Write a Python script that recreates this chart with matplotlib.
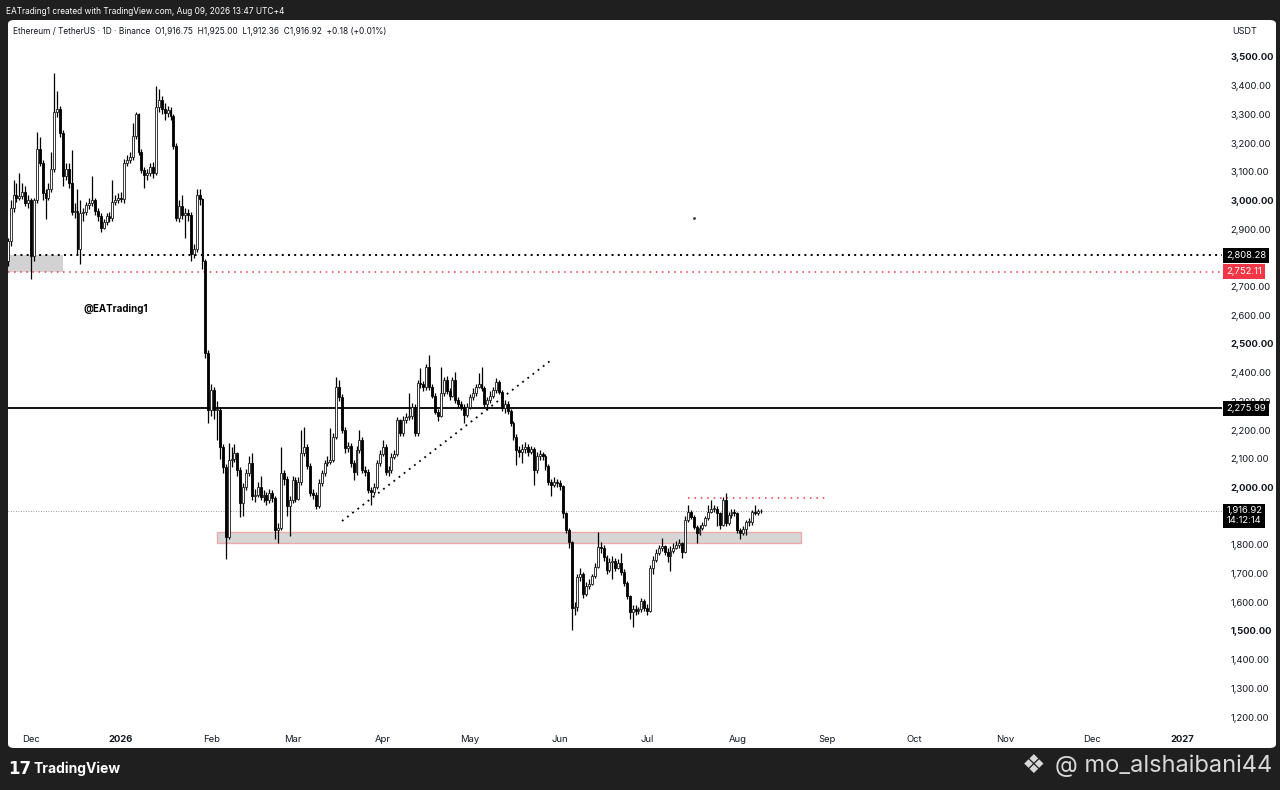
import numpy as np
import pandas as pd
import matplotlib
matplotlib.use("Agg")
import matplotlib.pyplot as plt
from matplotlib.patches import Rectangle, FancyBboxPatch

plt.rcParams['font.family'] = ['Inter', 'DejaVu Sans']

# ETH/USDT daily candles, first candle 2025-11-23, open = previous close
start = pd.Timestamp("2025-11-23")
first_open = 2790

closes = [
    # Nov
    2860, 2975, 3020, 3010, 3015, 3030, 2990, 3000,
    # Dec
    2805, 3000, 3180, 3130, 3025, 3010, 3040, 3110, 3310, 3320, 3235, 3085, 3110, 3060, 2960, 2965,
    2830, 2955, 2960, 2985, 2990, 3000, 2965, 2945, 2905, 2925, 2945, 2940, 2995, 3000, 3010,
    # Jan
    3005, 3130, 3140, 3150, 3225, 3300, 3170, 3105, 3090, 3095, 3115, 3095, 3325, 3350, 3320, 3305,
    3315, 3295, 3190, 2940, 2980, 2950, 2955, 2950, 2815, 2830, 3020, 3005, 2790, 2470, 2270,
    # Feb
    2340, 2270, 2270, 2142, 2072, 1829, 2095, 2100, 2120, 2060, 1945, 2000, 2050, 2085, 1970, 1975,
    2000, 1965, 1975, 1955, 1980, 1962, 1850, 1860, 2050, 2030, 1935, 1955,
    # Mar
    2025, 1960, 2020, 2120, 2140, 2075, 1980, 1975, 1935, 2014, 2049, 2084, 2090, 2096, 2177, 2351,
    2316, 2200, 2136, 2145, 2084, 2055, 2130, 2165, 2061, 2055, 1991, 1985, 2003, 2084, 2118,
    # Apr
    2140, 2055, 2060, 2107, 2118, 2235, 2189, 2235, 2245, 2250, 2282, 2189, 2363, 2360, 2350, 2420,
    2350, 2320, 2264, 2250, 2330, 2375, 2335, 2320, 2375, 2305, 2290, 2282, 2253, 2282,
    # May
    2316, 2330, 2350, 2360, 2345, 2290, 2305, 2320, 2340, 2368, 2334, 2276, 2290, 2265, 2224, 2177,
    2131, 2125, 2135, 2140, 2122, 2135, 2061, 2110, 2115, 2108, 2073, 2020, 2010, 2020, 2015,
    # Jun
    2005, 1910, 1852, 1811, 1580, 1585, 1689, 1700, 1630, 1655, 1665, 1690, 1724, 1794, 1790, 1758,
    1712, 1740, 1745, 1720, 1735, 1705, 1666, 1620, 1567, 1575, 1570, 1575, 1605, 1580,
    # Jul
    1570, 1718, 1747, 1770, 1790, 1795, 1775, 1760, 1780, 1790, 1800, 1805, 1776, 1887, 1916, 1898,
    1863, 1840, 1860, 1870, 1892, 1915, 1925, 1926, 1910, 1869, 1956, 1875, 1905, 1915, 1910,
    # Aug
    1852, 1840, 1855, 1880, 1880, 1915, 1912, 1916.75, 1916.92,
]

highs = [
    2870, 3000, 3070, 3060, 3095, 3060, 3050, 3020,
    3010, 3010, 3240, 3220, 3140, 3040, 3060, 3170, 3445, 3380, 3330, 3245, 3130, 3130, 3175, 2990,
    3040, 3000, 2975, 2995, 3010, 3085, 3010, 2975, 2955, 2935, 2955, 2960, 3070, 3020, 3025,
    3030, 3145, 3160, 3170, 3270, 3310, 3305, 3180, 3115, 3110, 3130, 3135, 3400, 3390, 3365, 3340,
    3330, 3325, 3300, 3200, 3000, 3020, 2975, 2970, 2960, 2850, 3040, 3040, 3010, 2795, 2480,
    2360, 2350, 2300, 2280, 2150, 2080, 2154, 2140, 2150, 2125, 2070, 2015, 2065, 2110, 2120, 1995,
    2020, 2040, 1990, 1985, 1995, 1990, 1970, 1875, 2142, 2060, 2040, 1970,
    2040, 2035, 2035, 2200, 2210, 2150, 2085, 1995, 1985, 2030, 2060, 2095, 2110, 2206, 2190, 2386,
    2375, 2325, 2210, 2160, 2155, 2095, 2145, 2200, 2175, 2075, 2065, 2000, 2015, 2095, 2130,
    2165, 2150, 2075, 2120, 2130, 2245, 2240, 2250, 2260, 2330, 2295, 2290, 2375, 2415, 2370, 2430,
    2462, 2360, 2330, 2275, 2420, 2385, 2390, 2345, 2385, 2404, 2315, 2300, 2290, 2295,
    2325, 2345, 2360, 2400, 2421, 2355, 2315, 2335, 2350, 2380, 2375, 2340, 2305, 2300, 2275, 2230,
    2185, 2145, 2150, 2160, 2150, 2145, 2140, 2125, 2130, 2125, 2115, 2080, 2030, 2035, 2030,
    2025, 2010, 1915, 1860, 1815, 1600, 1700, 1720, 1705, 1670, 1680, 1700, 1735, 1846, 1810, 1800,
    1765, 1755, 1760, 1755, 1750, 1770, 1715, 1675, 1625, 1590, 1590, 1585, 1615, 1610,
    1595, 1730, 1760, 1785, 1800, 1825, 1800, 1790, 1795, 1805, 1815, 1820, 1810, 1900, 1939, 1920,
    1905, 1870, 1870, 1880, 1900, 1939, 1956, 1940, 1935, 1915, 1965, 1980, 1915, 1925, 1925,
    1915, 1860, 1865, 1885, 1895, 1920, 1940, 1925, 1925,
]

lows = [
    2770, 2840, 2960, 2995, 3000, 3005, 2980, 2975,
    2725, 2790, 2990, 3120, 3000, 2935, 3000, 3030, 3100, 3290, 3220, 3050, 3070, 3045, 2950, 2940,
    2810, 2780, 2930, 2950, 2970, 2980, 2950, 2930, 2890, 2900, 2915, 2925, 2930, 2985, 2990,
    2995, 2990, 3120, 3130, 3140, 3215, 3160, 3095, 3045, 3070, 3085, 3080, 3090, 3310, 3300, 3280,
    3290, 3280, 3180, 2930, 2925, 2935, 2870, 2930, 2790, 2800, 2820, 2985, 2760, 2450, 2225,
    2250, 2240, 2165, 2100, 2050, 1750, 1820, 2070, 2090, 2040, 1898, 1900, 1990, 2040, 1955, 1950,
    1965, 1955, 1950, 1940, 1945, 1950, 1820, 1805, 1850, 2010, 1900, 1830,
    1945, 1950, 1955, 2010, 2110, 2065, 1970, 1960, 1925, 1930, 2005, 2040, 2075, 2080, 2090, 2170,
    2300, 2190, 2120, 2125, 2070, 2025, 2045, 2120, 2050, 2040, 1980, 1939, 1975, 1995, 2075,
    2110, 2045, 2040, 2050, 2100, 2110, 2180, 2180, 2225, 2235, 2240, 2180, 2180, 2345, 2335, 2340,
    2340, 2310, 2255, 2230, 2245, 2320, 2325, 2305, 2315, 2295, 2280, 2270, 2223, 2245,
    2275, 2305, 2320, 2345, 2335, 2280, 2270, 2295, 2310, 2330, 2325, 2265, 2260, 2255, 2215, 2165,
    2078, 2105, 2085, 2120, 2110, 2115, 2009, 2050, 2095, 2095, 2060, 2010, 1970, 2000, 2000,
    1990, 1895, 1840, 1790, 1503, 1555, 1570, 1675, 1615, 1620, 1645, 1660, 1685, 1720, 1770, 1745,
    1700, 1705, 1680, 1710, 1715, 1695, 1655, 1610, 1540, 1515, 1555, 1560, 1565, 1570,
    1555, 1565, 1700, 1740, 1765, 1780, 1765, 1740, 1710, 1770, 1785, 1790, 1753, 1770, 1880, 1890,
    1855, 1805, 1835, 1850, 1865, 1885, 1910, 1915, 1865, 1855, 1865, 1865, 1870, 1895, 1900,
    1840, 1820, 1835, 1835, 1865, 1870, 1905, 1905, 1912.36,
]

# drawn levels / zones
level_black = 2808.28
level_red = 2752.11
level_pivot = 2275.99
last_price = 1916.92
top_zone = ("2025-11-20", "2025-12-12", level_red, level_black)
demand_zone = ("2026-02-03", "2026-08-23", 1807, 1845)
red_top = ("2026-07-15", "2026-09-01", 1963)
trend = (("2026-03-18", 1883), ("2026-05-29", 2444))
stray_dot = ("2026-07-17", 2939)

month_ticks = ["2025-12-01", "2026-01-01", "2026-02-01", "2026-03-01", "2026-04-01", "2026-05-01",
               "2026-06-01", "2026-07-01", "2026-08-01", "2026-09-01", "2026-10-01", "2026-11-01",
               "2026-12-01", "2027-01-01"]
month_labels = ["Dec", "2026", "Feb", "Mar", "Apr", "May", "Jun", "Jul", "Aug", "Sep", "Oct",
                "Nov", "Dec", "2027"]


def day(d):
    return (pd.Timestamp(d) - start).days


W, H = 1280, 790
fig = plt.figure(figsize=(12.8, 7.9), dpi=100, facecolor="#1f1f1f")


def fx(px):
    return px / W


def fy(py):
    return 1 - py / H


panel = FancyBboxPatch((fx(8), fy(748)), fx(1276) - fx(8), fy(20) - fy(748),
                       boxstyle="round,pad=0,rounding_size=0.005", transform=fig.transFigure,
                       fc="white", ec="none", zorder=-5)
fig.patches.append(panel)

ax = fig.add_axes([fx(8), fy(728), fx(1222) - fx(8), fy(20) - fy(728)])
ax.set_zorder(2)
ax.patch.set_alpha(0)
for s in ax.spines.values():
    s.set_visible(False)

c = np.array(closes, dtype=float)
o = np.r_[first_open, c[:-1]]
hi = np.maximum(np.array(highs, dtype=float), np.maximum(o, c))
lo = np.minimum(np.array(lows, dtype=float), np.minimum(o, c))
x = np.arange(len(c))
up = c >= o
body_lo = np.minimum(o, c)
body_h = np.maximum(np.abs(c - o), 2.0)

ax.vlines(x, lo, hi, color="black", lw=0.9, zorder=3)
ax.bar(x[up], body_h[up], bottom=body_lo[up], width=0.66, color="white",
       edgecolor="#1a1a1a", linewidth=0.6, zorder=4)
ax.bar(x[~up], body_h[~up], bottom=body_lo[~up], width=0.66, color="black",
       edgecolor="black", linewidth=0.6, zorder=4)

# zones
x0, x1, y0, y1 = top_zone
ax.add_patch(Rectangle((day(x0), y0), day(x1) - day(x0), y1 - y0, fc="#d2d2d2", ec="none", zorder=1))
x0, x1, y0, y1 = demand_zone
ax.add_patch(Rectangle((day(x0), y0), day(x1) - day(x0), y1 - y0, fc="#d6d6d6",
                       ec="#eeaaaa", lw=1.0, zorder=1))

# horizontal levels
ax.axhline(level_black, color="black", lw=1.4, ls=(0, (1, 2.2)), zorder=2)
ax.axhline(level_red, color="#f23645", lw=1.1, ls=(0, (1, 3)), zorder=2)
ax.axhline(level_pivot, color="black", lw=1.3, zorder=2)
ax.axhline(last_price, color="#777777", lw=0.6, ls=(0, (1, 2)), zorder=2)

xa, xb, yr = red_top
ax.plot([day(xa), day(xb)], [yr, yr], color="#f23645", lw=1.1, ls=(0, (1, 3.2)), zorder=2)
(ta, pa), (tb, pb) = trend
ax.plot([day(ta), day(tb)], [pa, pb], color="black", lw=1.3, ls=(0, (1, 2.6)), zorder=2)
ax.plot(day(stray_dot[0]), stray_dot[1], marker="s", ms=0.9, color="#333333", zorder=2)

ax.text(day("2025-12-19"), 2622, "@EATrading1", fontsize=7, fontweight="bold", color="black",
        ha="left", va="center", zorder=6)

# scales (TradingView: 2.9 px per day, ~3.48 USDT per px)
ax.set_xlim(0.09, 417.75)
ax.set_ylim(1161.7, 3628.9)

ax.set_xticks([day(d) for d in month_ticks])
ax.set_xticklabels(month_labels)
ax.tick_params(axis="x", length=0, pad=5, labelsize=6.8, colors="#131722")
for lbl in ax.get_xticklabels():
    if lbl.get_text() in ("2026", "2027"):
        lbl.set_fontweight("bold")

# price scale; 1,900 and 2,800 sit under the price tags
ax.yaxis.tick_right()
yt = np.arange(1200, 3600, 100)
ax.set_yticks(yt)
ax.set_yticklabels(["" if v in (1900, 2800) else f"{v:,.2f}" for v in yt])
ax.tick_params(axis="y", length=0, pad=6, labelsize=6.8, colors="#131722")
for v, lbl in zip(yt, ax.get_yticklabels()):
    if v % 500 == 0:
        lbl.set_fontweight("bold")


def price_tag(y, txt, fc, va="center"):
    ax.text(1.0035, y, txt, transform=ax.get_yaxis_transform(), ha="left", va=va,
            fontsize=6.8, color="white", linespacing=1.05, zorder=10, clip_on=False,
            bbox=dict(boxstyle="square,pad=0.3", fc=fc, ec="none"))


price_tag(level_black, "2,808.28", "black")
price_tag(level_red, "2,752.11", "#f23645")
price_tag(level_pivot, "2,275.99", "black")
price_tag(last_price + 17, "1,916.92\n14:12:14", "black", va="top")

ax.text(1.0085, 1 - 11 / 708, "USDT", transform=ax.transAxes, fontsize=6.5, color="#131722",
        ha="left", va="center")
ax.text(5 / 1214, 1 - 11 / 708,
        "Ethereum / TetherUS \u00b7 1D \u00b7 Binance  O1,916.75  H1,925.00  L1,912.36  C1,916.92  +0.18 (+0.01%)",
        transform=ax.transAxes, fontsize=6.0, color="#131722", ha="left", va="center")

# frame texts
fig.text(fx(6), fy(12), "EATrading1 created with TradingView.com, Aug 09, 2026 13:47 UTC+4",
         fontsize=6.0, color="white", ha="left", va="center")
fig.text(fx(8), fy(769), "17", fontsize=12, fontweight="heavy", color="white",
         ha="left", va="center", family=["DejaVu Sans"])
fig.text(fx(34), fy(769), "TradingView", fontsize=10, fontweight="bold", color="white",
         ha="left", va="center")
fig.text(fx(1022), fy(766), "\u2756", fontsize=19, color="#d8d8d8", ha="left", va="center",
         family=["DejaVu Sans"])
fig.text(fx(1272), fy(766), "@ mo_alshaibani44", fontsize=17, color="#d8d8d8",
         ha="right", va="center")

fig.savefig("out.png", dpi=100, facecolor=fig.get_facecolor())
